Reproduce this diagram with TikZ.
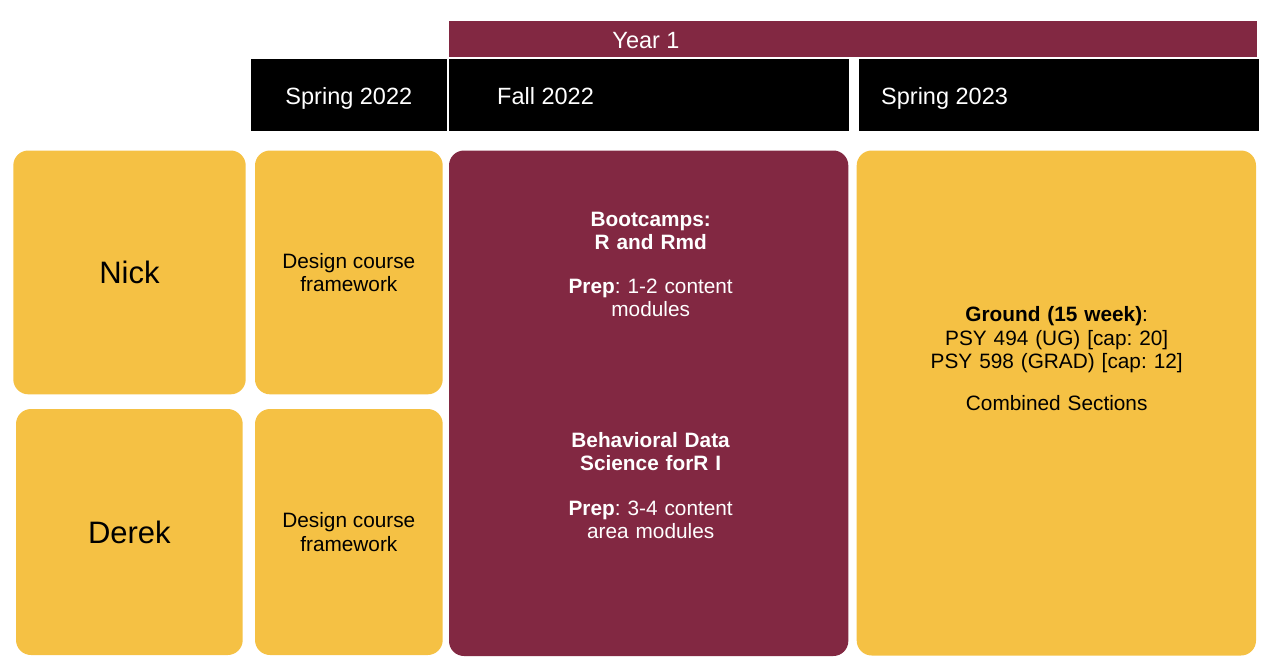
\documentclass[tikz,border=0pt]{standalone}
\usepackage{fontspec}
\setmainfont{Liberation Sans}
\definecolor{asumaroon}{RGB}{130,40,66}
\definecolor{asugold}{RGB}{245,193,68}
\newcommand{\bodysz}{\fontsize{20.8}{23.4}\selectfont\frenchspacing}
\newcommand{\namesz}{\fontsize{31}{36}\selectfont\frenchspacing}
\newcommand{\headsz}{\fontsize{23.5}{28}\selectfont\frenchspacing}
\begin{document}
\begin{tikzpicture}[x=1pt,y=-1pt,
  box/.style={rectangle, rounded corners=15pt, inner sep=0pt, draw=none, align=center},
  goldbox/.style={box, fill=asugold, text=black},
  maroonbox/.style={box, fill=asumaroon, text=white},
  headbox/.style={rectangle, inner sep=0pt, draw=none, fill=black, text=white, font=\headsz},
  bodytext/.style={inner sep=0pt, align=center, text width=380pt, font=\bodysz},
]
\useasboundingbox (0,0) rectangle (1266,664);
% top bar
\node[rectangle, inner sep=0pt, fill=asumaroon, minimum width=808pt, minimum height=35.7pt] (yearbar) at (853,38.85) {};
\node[anchor=base, text=white, font=\headsz, inner sep=0pt] (yeartext) at (646,48) {Year 1};
% headers
\node[headbox, minimum width=195.7pt, minimum height=72.3pt] (hsp22) at (348.85,95.15) {};
\node[anchor=base, text=white, font=\headsz, inner sep=0pt] (hsp22t) at (348.85,104) {Spring 2022};
\node[headbox, minimum width=400.3pt, minimum height=72.3pt] (hfa22) at (649.15,95.15) {};
\node[anchor=base west, text=white, font=\headsz, inner sep=0pt] (hfa22t) at (497,104) {Fall 2022};
\node[headbox, minimum width=399.7pt, minimum height=72.3pt] (hsp23) at (1059.15,95.15) {};
\node[anchor=base west, text=white, font=\headsz, inner sep=0pt] (hsp23t) at (881,104) {Spring 2023};
% people
\node[goldbox, minimum width=232.4pt, minimum height=243.8pt, font=\namesz] (nick) at (129.5,272.4) {Nick};
\node[goldbox, minimum width=226.7pt, minimum height=246pt, font=\namesz] (derek) at (129.35,532) {Derek};
% spring 2022 design
\node[goldbox, minimum width=187.7pt, minimum height=243.8pt, font=\bodysz] (des1) at (348.85,272.4) {Design course\\framework};
\node[goldbox, minimum width=187.7pt, minimum height=246pt, font=\bodysz] (des2) at (348.85,532) {Design course\\framework};
% fall 2022
\node[maroonbox, minimum width=399.3pt, minimum height=505.5pt] (fall) at (648.65,403.25) {};
\node[bodytext, anchor=base, text=white] (boot) at (650.7,226) {\textbf{Bootcamps:}\\\textbf{R and Rmd}};
\node[bodytext, anchor=base, text=white] (prep1) at (650.7,293) {\textbf{Prep}: 1-2 content\\modules};
\node[bodytext, anchor=base, text=white] (bds) at (650.7,447) {\textbf{Behavioral Data}\\\textbf{Science forR I}};
\node[bodytext, anchor=base, text=white] (prep2) at (650.7,515) {\textbf{Prep}: 3-4 content\\area modules};
% spring 2023
\node[goldbox, minimum width=399.3pt, minimum height=505pt] (spring) at (1056.35,403) {};
\node[bodytext, anchor=base, text=black] (ground) at (1056.7,321.7) {\textbf{Ground (15 week)}:\\PSY 494 (UG) [cap: 20]\\PSY 598 (GRAD) [cap: 12]};
\node[bodytext, anchor=base, text=black] (comb) at (1056.7,410.7) {Combined Sections};
\end{tikzpicture}
\end{document}
